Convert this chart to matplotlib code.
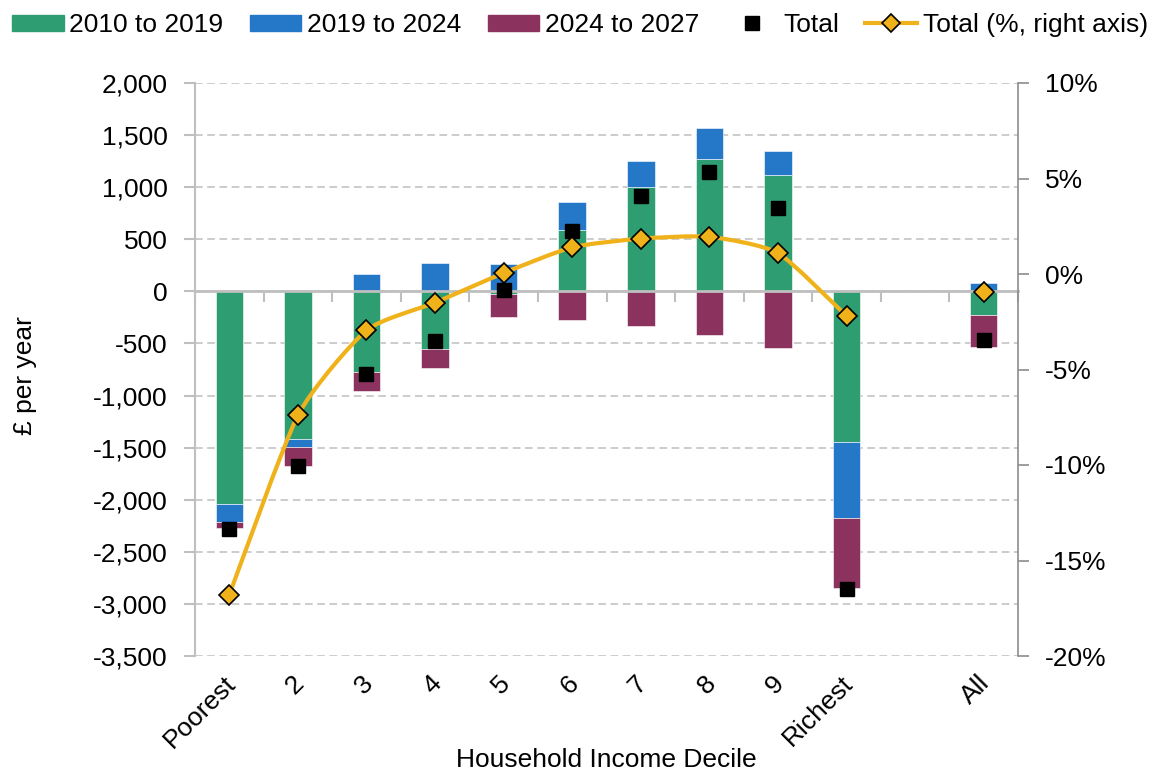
import matplotlib
matplotlib.use("Agg")
import matplotlib.pyplot as plt
import numpy as np
from matplotlib.lines import Line2D
from matplotlib.patches import Patch, PathPatch
from matplotlib.path import Path
from matplotlib.transforms import ScaledTranslation

plt.rcParams['font.family'] = ['Liberation Sans', 'DejaVu Sans']

# data (£ per year, right axis in %)
deciles = ['Poorest', '2', '3', '4', '5', '6', '7', '8', '9', 'Richest', 'All']
change_2010_2019 = [-2040, -1420, -770, -550, -25, 586, 1002, 1271, 1117, -1442, -230]
change_2019_2024 = [-170, -76, 170, 270, 260, 270, 249, 300, 234, -736, 78]
change_2024_2027 = [-64, -177, -183, -188, -218, -271, -335, -418, -546, -672, -307]
total_gbp = [-2277, -1676, -793, -476, 13, 582, 918, 1149, 803, -2853, -466]
total_pct = [-16.8, -7.4, -2.95, -1.5, 0.05, 1.4, 1.85, 1.95, 1.1, -2.2, -0.95]

series = [
    ('2010 to 2019', change_2010_2019, '#2E9E72'),
    ('2019 to 2024', change_2019_2024, '#2577C8'),
    ('2024 to 2027', change_2024_2027, '#8C325E'),
]
GOLD = '#F0B21B'
GRID = '#BFBFBF'
FS = 19

# positions: one empty slot between Richest and All
x = np.arange(len(deciles), dtype=float)
x[-1] += 1

fig = plt.figure(figsize=(11.6, 7.76), dpi=100)
ax = fig.add_axes([195 / 1160, 1 - 656 / 776, (1018 - 195) / 1160, (656 - 83) / 776])

# stacked bars, positives stack up from 0 and negatives down from 0
pos_base = np.zeros(len(x))
neg_base = np.zeros(len(x))
for name, vals, col in series:
    vals = np.array(vals, dtype=float)
    bottom = np.where(vals >= 0, pos_base, neg_base)
    ax.bar(x, vals, 0.4, bottom=bottom, color=col, zorder=2,
           edgecolor='white', linewidth=0.4)
    pos_base += np.clip(vals, 0, None)
    neg_base += np.clip(vals, None, 0)

ax.plot(x, total_gbp, 's', color='black', markersize=9.5, zorder=4)

ax.set_xlim(-0.5, x[-1] + 0.5)
ax.set_ylim(-3500, 2000)
ax.set_yticks(np.arange(-3500, 2001, 500))
ax.set_yticklabels([f"{v:,}" for v in range(-3500, 2001, 500)])
ax.yaxis.grid(True, color=GRID, linestyle=(0, (5, 3)), linewidth=1.1, zorder=0)
ax.set_axisbelow(True)

for s in ['top', 'right']:
    ax.spines[s].set_visible(False)
ax.spines['left'].set_color(GRID)
ax.spines['left'].set_linewidth(1.5)
ax.spines['bottom'].set_position(('data', 0))
ax.spines['bottom'].set_color(GRID)
ax.spines['bottom'].set_linewidth(2)
ax.spines['bottom'].set_zorder(3)

# tick marks on the zero line between categories
ax.set_xticks(np.arange(-0.5, x[-1] + 0.6, 1.0))
ax.tick_params(axis='x', labelbottom=False, length=8, width=1.5, color=GRID)
ax.tick_params(axis='y', labelsize=FS, length=8, width=1.5, color=GRID, pad=11.5)

# category labels at the bottom of the plot area
sec = ax.secondary_xaxis('bottom')
sec.set_xticks(x, deciles, rotation=45, ha='right', rotation_mode='anchor', fontsize=FS)
sec.tick_params(length=0, pad=11)
sec.spines['bottom'].set_visible(False)
shift = ScaledTranslation(-0.06, 0, fig.dpi_scale_trans)
for lab in sec.get_xticklabels():
    lab.set_transform(lab.get_transform() + shift)

ax.set_ylabel('£ per year', fontsize=FS)
ax.yaxis.set_label_coords(-0.192, 0.49)
ax.text(0.5, -0.1815, 'Household Income Decile', transform=ax.transAxes,
        ha='center', va='center', fontsize=FS)

# right axis: total as % of income
ax2 = ax.twinx()
ax2.set_ylim(-20, 10)
ax2.set_yticks(np.arange(-20, 11, 5))
ax2.set_yticklabels([f"{v}%" for v in range(-20, 11, 5)])
ax2.tick_params(axis='y', labelsize=FS, length=8, width=1.2, color='#8C8C8C', pad=11.5)
for s in ['top', 'left', 'bottom']:
    ax2.spines[s].set_visible(False)
ax2.spines['right'].set_color('#8C8C8C')
ax2.spines['right'].set_linewidth(1.2)

# lightly smoothed line through the decile points (cubic Bezier segments)
k = 0.1
pts = np.column_stack([x[:-1], np.array(total_pct[:-1])])
ext = np.vstack([pts[0], pts, pts[-1]])
verts = [pts[0]]
codes = [Path.MOVETO]
for i in range(len(pts) - 1):
    p0, p1, p2, p3 = ext[i], ext[i + 1], ext[i + 2], ext[i + 3]
    verts += [p1 + (p2 - p0) * k, p2 - (p3 - p1) * k, p2]
    codes += [Path.CURVE4] * 3
ax2.add_patch(PathPatch(Path(verts, codes), fill=False, edgecolor=GOLD,
                        linewidth=3, zorder=3, capstyle='round'))
ax2.plot(x, total_pct, 'D', color=GOLD, markeredgecolor='black',
         markeredgewidth=1.2, markersize=10, zorder=5)

handles = [Patch(color=c) for _, _, c in series]
handles.append(Line2D([], [], marker='s', color='black', linestyle='none', markersize=9.5))
handles.append(Line2D([], [], marker='D', color=GOLD, markeredgecolor='black',
                      markeredgewidth=1.2, markersize=9.5, linewidth=3))
labels = [n for n, _, _ in series] + ['Total', 'Total (%, right axis)']
fig.legend(handles, labels, loc='upper center', bbox_to_anchor=(0.5, 1.0), ncol=5,
           frameon=False, fontsize=FS, handlelength=1.95, handleheight=0.6,
           handletextpad=0.22, columnspacing=1.0, borderaxespad=0.1)

fig.savefig('out.png', dpi=100)
